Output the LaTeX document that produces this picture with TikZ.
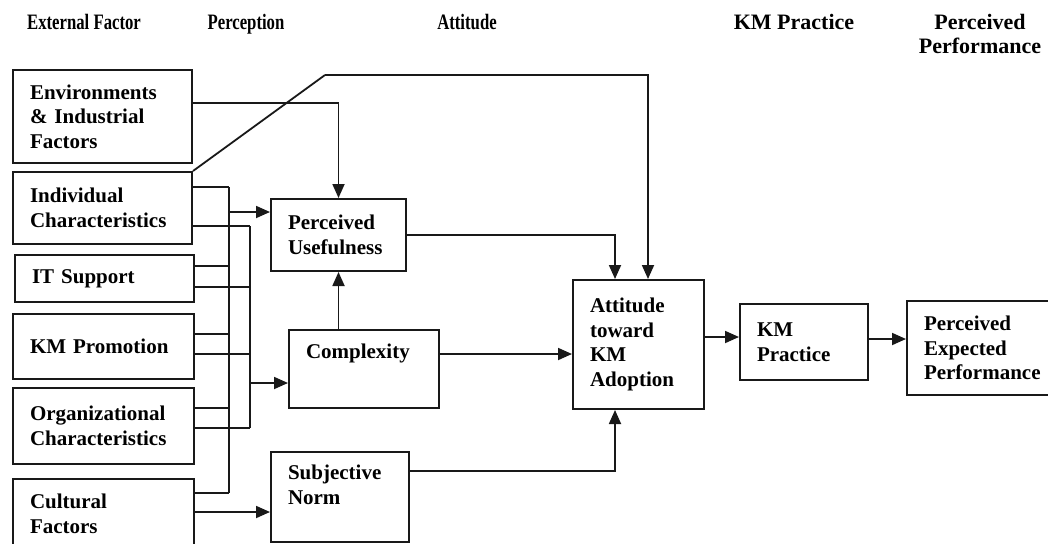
\documentclass[tikz,border=0pt]{standalone}
\usepackage{fontspec}
\setmainfont{Liberation Serif}
\usetikzlibrary{arrows.meta}

\tikzset{
  box/.style={draw=black!90, line width=2pt, anchor=north west, align=left,
              inner xsep=17pt, inner ysep=0pt,
              font=\bfseries\fontsize{21}{24.5}\selectfont},
  head/.style={font=\bfseries\fontsize{22}{24}\selectfont, align=center},
  conn/.style={line width=1.8pt, draw=black!90},
  arr/.style={conn, -{Triangle[length=14pt,width=12pt]}},
}

\newcommand{\factorBox}[5]{% #1: name of box
                           % #2: top left corner
                           % #3: text width
                           % #4: height of box
                           % #5: text
  \node (#1) [box, at={#2}, text width=#3, minimum height=#4] {#5};
}

\begin{document}
\begin{tikzpicture}[x=1pt,y=-1pt]

\useasboundingbox (0,0) rectangle (1048,543);

% column titles
\node (h_ext)  [head, anchor=base] at (84,30)  {\scalebox{0.76}[1]{External Factor}};
\node (h_perc) [head, anchor=base] at (246,30) {\scalebox{0.76}[1]{Perception}};
\node (h_att)  [head, anchor=base] at (467,30) {\scalebox{0.76}[1]{Attitude}};
\node (h_km)   [head, anchor=base] at (794,30) {KM Practice};
\node (h_perf) [head] at (980,34) {Perceived\\Performance};

% boxes
\factorBox{env}{(12,69)}{145pt}{93pt}{Environments\\\& Industrial\\Factors}
\factorBox{indiv}{(12,171)}{145pt}{72pt}{Individual\\Characteristics}
\factorBox{itsup}{(14,254)}{145pt}{47pt}{IT Support}
\factorBox{kmpro}{(12,313)}{147pt}{65pt}{KM Promotion}
\factorBox{orgchar}{(12,387)}{147pt}{76pt}{Organizational\\Characteristics}
\factorBox{cult}{(12,478)}{147pt}{70pt}{Cultural\\Factors}

\factorBox{useful}{(270,198)}{101pt}{72pt}{Perceived\\Usefulness}
\factorBox{complex}{(288,329)}{116pt}{78pt}{Complexity\\[12pt]\mbox{}}
\factorBox{subnorm}{(270,451)}{104pt}{90pt}{Subjective\\Norm\\\mbox{}}

\factorBox{attitude}{(572,279)}{97pt}{129pt}{Attitude\\toward\\KM\\Adoption}
\factorBox{kmprac}{(739,303)}{94pt}{76pt}{KM\\Practice}
\factorBox{perf}{(906,300)}{118pt}{94pt}{Perceived\\Expected\\Performance}


\coordinate (busA_top) at (229,187);
\coordinate (busA_2) at (229,266);
\coordinate (busA_3) at (229,334);
\coordinate (busA_4) at (229,408);
\coordinate (busA_bot) at (229,493);
\coordinate (busA_out) at (229,212);

\coordinate (busB_top) at (250,226);
\coordinate (busB_2) at (250,287);
\coordinate (busB_3) at (250,354);
\coordinate (busB_bot) at (250,428);
\coordinate (busB_out) at (250,383);

\coordinate (diag_top) at (325,75);
\coordinate (cult_out) at ([yshift=2pt]cult.east);
\coordinate (comp_out) at ([yshift=15pt]complex.east);
\coordinate (norm_out) at ([yshift=26pt]subnorm.east);
\coordinate (att_out) at ([yshift=7.5pt]attitude.east);
\coordinate (prac_out) at ([yshift=3pt]kmprac.east);


\draw[conn] (busA_top)--(busA_bot);
\draw[conn] (busB_top)--(busB_bot);

\draw[conn] (indiv.east |- busA_top)--(busA_top);
\draw[conn] (itsup.east |- busA_2)--(busA_2);
\draw[conn] (kmpro.east |- busA_3)--(busA_3);
\draw[conn] (orgchar.east |- busA_4)--(busA_4);
\draw[conn] (cult.east |- busA_bot)--(busA_bot);

\draw[conn] (indiv.east |- busB_top)--(busB_top);
\draw[conn] (itsup.east |- busB_2)--(busB_2);
\draw[conn] (kmpro.east |- busB_3)--(busB_3);
\draw[conn] (orgchar.east |- busB_bot)--(busB_bot);

\draw[arr] (busA_out)--(busA_out -| useful.west);
\draw[arr] (busB_out)--(busB_out -| complex.west);
\draw[arr] (cult_out)--(cult_out -| subnorm.west);

\draw[arr] ([yshift=13.5pt]env.east) -| (useful.north);
\draw[conn] (indiv.north east)--(diag_top);
\draw[arr] (diag_top) -| ([xshift=9.5pt]attitude.north);

\draw[arr] (complex.north -| useful.south)--(useful.south);
\draw[arr] (useful.east) -| ([xshift=-23.5pt]attitude.north);
\draw[arr] (comp_out)--(comp_out -| attitude.west);
\draw[arr] (norm_out) -| ([xshift=-23.5pt]attitude.south);

\draw[arr] (att_out)--(att_out -| kmprac.west);
\draw[arr] (prac_out)--(prac_out -| perf.west);
\end{tikzpicture}
\end{document}
